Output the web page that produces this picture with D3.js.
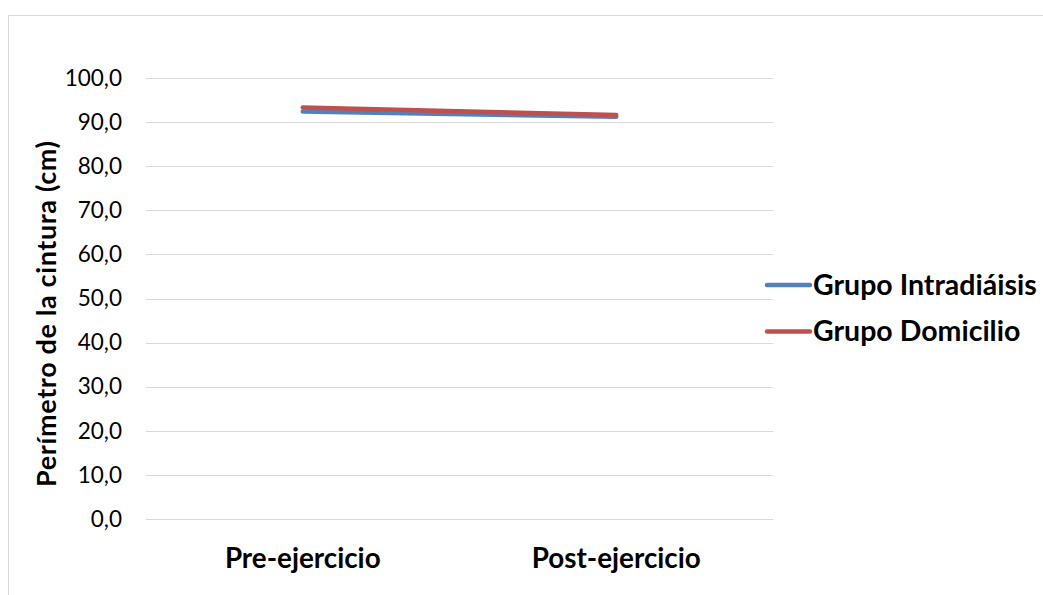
<!DOCTYPE html>
<html>
<head>
<meta charset="utf-8">
<script src="https://cdn.jsdelivr.net/npm/d3@7"></script>
<style>
  html, body { margin: 0; padding: 0; background: #ffffff; }
  svg { display: block; }
  text { font-family: Lato, "Open Sans", sans-serif; fill: #000; }
</style>
</head>
<body>
<svg id="chart" width="1043" height="595"></svg>
<script>
// Waist circumference by group, before and after the exercise programme
const categories = ["Pre-ejercicio", "Post-ejercicio"];
const seriesNames = ["Grupo Intradiáisis", "Grupo Domicilio"];
const intradialisisValues = [92.4, 91.2];
const domicilioValues = [93.3, 91.6];
const seriesColors = ["#4f81bd", "#c0504d"];
const yTicks = [0, 10, 20, 30, 40, 50, 60, 70, 80, 90, 100];

const series = [
  { name: seriesNames[0], values: intradialisisValues, color: seriesColors[0] },
  { name: seriesNames[1], values: domicilioValues, color: seriesColors[1] }
];

const svg = d3.select("#chart");

// Outer chart frame
svg.append("rect")
  .attr("x", 8.5).attr("y", 15.5)
  .attr("width", 1100).attr("height", 700)
  .attr("fill", "#fff")
  .attr("stroke", "#d9d9d9").attr("stroke-width", 1);

const plot = { left: 146, right: 773, top: 78, bottom: 519 };

const x = d3.scaleBand()
  .domain(categories)
  .range([plot.left, plot.right]);

const y = d3.scaleLinear()
  .domain([0, 100])
  .range([plot.bottom, plot.top]);

const fmt = v => d3.format(".1f")(v).replace(".", ",");

// Horizontal gridlines
svg.append("g")
  .selectAll("line")
  .data(yTicks)
  .join("line")
  .attr("x1", plot.left).attr("x2", plot.right)
  .attr("y1", d => Math.round(y(d)) + 0.5)
  .attr("y2", d => Math.round(y(d)) + 0.5)
  .attr("stroke", "#d9d9d9").attr("stroke-width", 1);

// Y axis labels
const yAxis = d3.axisLeft(y).tickValues(yTicks).tickFormat(fmt).tickSize(0).tickPadding(24);
const gy = svg.append("g").attr("transform", `translate(${plot.left},0)`).call(yAxis);
gy.select(".domain").remove();
gy.selectAll("text")
  .attr("font-family", "Lato, 'Open Sans', sans-serif")
  .attr("font-size", 22.5)
  .attr("fill", "#000");

// X axis labels
const xAxis = d3.axisBottom(x).tickSize(0).tickPadding(29);
const gx = svg.append("g").attr("transform", `translate(0,${plot.bottom})`).call(xAxis);
gx.select(".domain").remove();
gx.selectAll("text")
  .attr("font-family", "Lato, 'Open Sans', sans-serif")
  .attr("font-size", 27.8)
  .attr("font-weight", "bold")
  .attr("fill", "#000");

// Y axis title
svg.append("text")
  .attr("transform", "translate(56,314) rotate(-90)")
  .attr("text-anchor", "middle")
  .attr("font-size", 27)
  .attr("font-weight", "bold")
  .attr("textLength", 346)
  .attr("lengthAdjust", "spacing")
  .text("Perímetro de la cintura (cm)");

// Series lines
const line = d3.line()
  .x((d, i) => x(categories[i]) + x.bandwidth() / 2)
  .y(d => y(d));

svg.append("g")
  .selectAll("path")
  .data(series)
  .join("path")
  .attr("d", d => line(d.values))
  .attr("fill", "none")
  .attr("stroke", d => d.color)
  .attr("stroke-width", 4.5)
  .attr("stroke-linecap", "round");

// Legend
const legend = svg.append("g")
  .selectAll("g")
  .data(series)
  .join("g")
  .attr("transform", (d, i) => `translate(767,${285 + i * 46.5})`);

legend.append("line")
  .attr("x1", 0).attr("x2", 43)
  .attr("y1", 0).attr("y2", 0)
  .attr("stroke", d => d.color)
  .attr("stroke-width", 4.5)
  .attr("stroke-linecap", "round");

legend.append("text")
  .attr("x", 46).attr("y", 0)
  .attr("dy", "0.35em")
  .attr("font-size", 28.5)
  .attr("font-weight", "bold")
  .text(d => d.name);
</script>
</body>
</html>
